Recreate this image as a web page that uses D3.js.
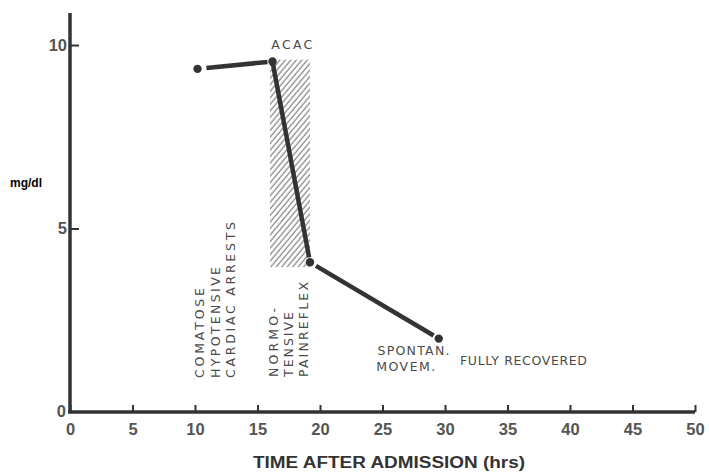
<!DOCTYPE html>
<meta charset="utf-8">
<style>
body { margin: 0; background: #fff; }
.tick text { font-family: "Liberation Sans", Arial, sans-serif; font-size: 16.5px; font-weight: bold; fill: #555; }
.note { font-family: "DejaVu Sans", sans-serif; font-size: 12.5px; fill: #4a4a4a; }
</style>
<body>
<script src="https://cdnjs.cloudflare.com/ajax/libs/d3/7.8.5/d3.min.js"></script>
<script>

// hours after admission / ACAC mg/dl
var hours = [10.2, 16.2, 19.2, 29.5];
var acac = [9.35, 9.55, 4.08, 2.0];
var hatchX = [16, 19.2];
var hatchY = [3.95, 9.6];
var xTicks = [0, 5, 10, 15, 20, 25, 30, 35, 40, 45, 50];
var yTicks = [0, 5, 10];

var W = 709, H = 472;
var x = d3.scaleLinear().domain([0, 50]).range([70, 695]);
var y = d3.scaleLinear().domain([0, 10]).range([412, 45]);

var svg = d3.select("body").append("svg")
    .attr("width", W)
    .attr("height", H);

var defs = svg.append("defs");
defs.append("pattern")
    .attr("id", "hatch")
    .attr("patternUnits", "userSpaceOnUse")
    .attr("width", 4.2).attr("height", 4.2)
    .attr("patternTransform", "rotate(40)")
  .append("line")
    .attr("x1", 1).attr("y1", 0).attr("x2", 1).attr("y2", 4.2)
    .attr("stroke", "#777").attr("stroke-width", 1.1);

// hatched period
svg.append("rect")
    .attr("x", x(hatchX[0]))
    .attr("y", y(hatchY[1]))
    .attr("width", x(hatchX[1]) - x(hatchX[0]))
    .attr("height", y(hatchY[0]) - y(hatchY[1]))
    .attr("fill", "url(#hatch)");

// axes
var xAxis = svg.append("g")
    .attr("transform", "translate(0," + y(0) + ")")
    .call(d3.axisBottom(x).tickValues(xTicks).tickSize(-7).tickPadding(9).tickFormat(d3.format("d")));
xAxis.select(".domain").remove();
xAxis.selectAll(".tick line").attr("stroke", "#333").attr("stroke-width", 2);
xAxis.append("line")
    .attr("x1", x(0) - 2).attr("x2", x(50))
    .attr("stroke", "#333").attr("stroke-width", 3.5);
xAxis.selectAll(".tick text").attr("dy", "0.85em");

var yAxis = svg.append("g")
    .attr("transform", "translate(" + x(0) + ",0)")
    .call(d3.axisLeft(y).tickValues(yTicks).tickSize(-9).tickPadding(3).tickFormat(d3.format("d")));
yAxis.select(".domain").remove();
yAxis.selectAll(".tick line").attr("stroke", "#333").attr("stroke-width", 2);
yAxis.selectAll(".tick").filter(function(d) { return d === 0; }).select("line").remove();
yAxis.selectAll(".tick").filter(function(d) { return d === 0; }).select("text")
    .attr("x", -4).attr("dy", "0.3em");
yAxis.append("line")
    .attr("y1", 13).attr("y2", y(0) + 1)
    .attr("stroke", "#333").attr("stroke-width", 3.5);

// connecting segments, with small gaps at the dots
var pts = hours.map(function(h, i) { return [x(h), y(acac[i])]; });
var gapStart = [9, 3, 7], gapEnd = [5, 5, 6];
for (var i = 0; i < pts.length - 1; i++) {
  var a = pts[i], b = pts[i + 1];
  var dx = b[0] - a[0], dy = b[1] - a[1], len = Math.sqrt(dx * dx + dy * dy);
  svg.append("line")
      .attr("x1", a[0] + dx / len * gapStart[i]).attr("y1", a[1] + dy / len * gapStart[i])
      .attr("x2", b[0] - dx / len * gapEnd[i]).attr("y2", b[1] - dy / len * gapEnd[i])
      .attr("stroke", "#333").attr("stroke-width", 4.5);
}
svg.selectAll(".dot")
    .data(hours)
  .enter().append("circle")
    .attr("class", "dot")
    .attr("cx", function(d) { return x(d); })
    .attr("cy", function(d, i) { return y(acac[i]); })
    .attr("r", 4.2)
    .attr("fill", "#333");

// horizontal notes
function note(txt, px, py, len) {
  svg.append("text")
      .attr("class", "note")
      .attr("x", px).attr("y", py)
      .attr("textLength", len).attr("lengthAdjust", "spacing")
      .text(txt);
}
note("ACAC", x(16.1), y(10) + 4, 41);
note("SPONTAN.", x(24.6), 355, 72);
note("MOVEM.", x(24.5), 371, 59);
note("FULLY RECOVERED", x(31.2), 365, 127);

// vertical notes
function vnote(txt, px, py, len) {
  svg.append("text")
      .attr("class", "note")
      .attr("transform", "translate(" + px + "," + py + ") rotate(-90)")
      .attr("textLength", len).attr("lengthAdjust", "spacing")
      .text(txt);
}
vnote("COMATOSE", 204, 378, 90);
vnote("HYPOTENSIVE", 220, 378, 111);
vnote("CARDIAC  ARRESTS", 235, 378, 156);
vnote("NORMO-", 278, 377, 69);
vnote("TENSIVE", 293, 377, 65);
vnote("PAINREFLEX", 308, 377, 95);

// axis titles
svg.append("text")
    .attr("x", 10).attr("y", 187)
    .style("font-family", "\"Liberation Sans\", Arial, sans-serif")
    .style("font-size", "12px").style("font-weight", "bold")
    .text("mg/dl");

svg.append("text")
    .attr("x", 253).attr("y", 468)
    .attr("textLength", 272).attr("lengthAdjust", "spacingAndGlyphs")
    .style("font-family", "\"Liberation Sans\", Arial, sans-serif")
    .style("font-size", "16px").style("font-weight", "bold")
    .style("fill", "#333")
    .text("TIME AFTER ADMISSION (hrs)");

</script>
</body>
